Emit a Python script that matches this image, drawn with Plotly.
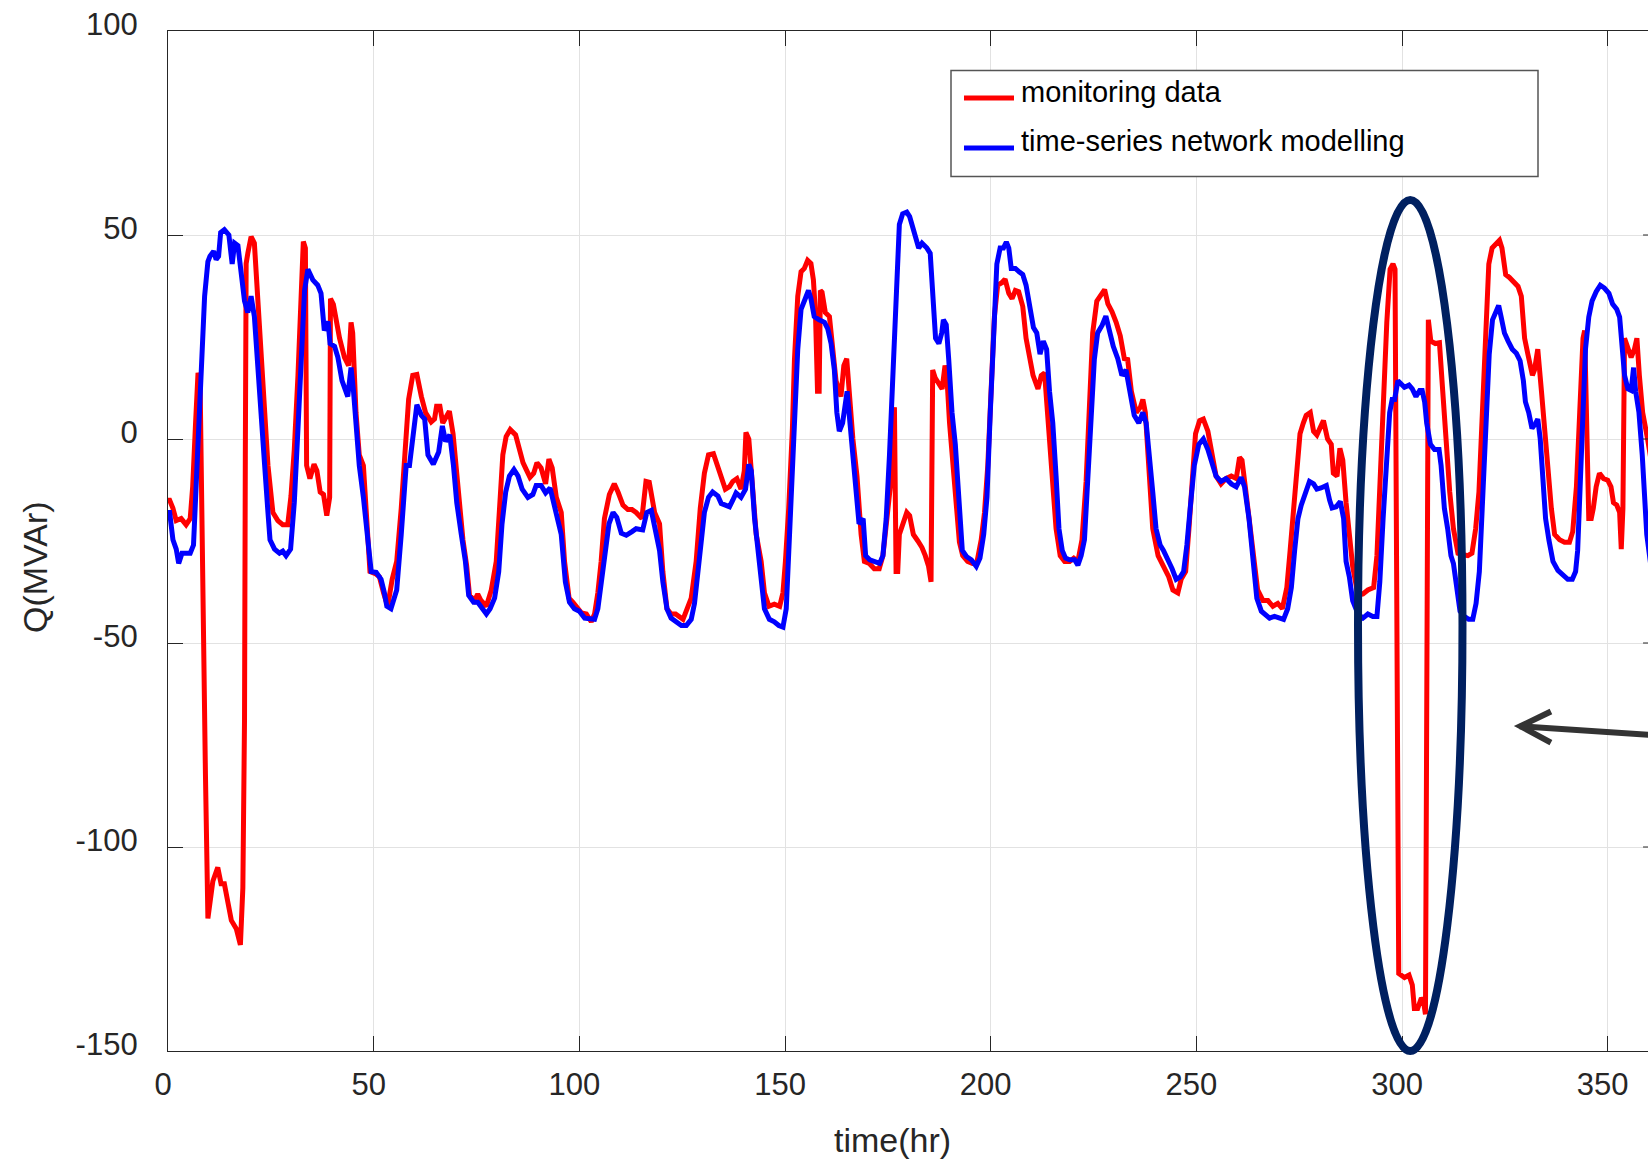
import plotly.graph_objects as go

# ---------------- data ----------------
red_hours = [0, 0.4, 1.2, 2, 3.2, 4.4, 5.4, 6, 6.7, 7.3, 7.8, 8.5, 9.1, 9.7, 10.9, 12.1, 12.9, 13.7, 14.5, 15.4,
             16.6, 17.6, 18.2, 18.6, 18.8, 19, 19.4, 20.2, 21, 21.8, 22.6, 23.5, 24.3, 25.5, 26.7, 27.9, 29.1, 29.9,
             30.7, 31.6, 32.4, 32.9, 33.4, 33.7, 34.5, 35.5, 36.2, 37, 37.8, 38.6, 39.3, 39.5, 40.2, 41, 41.7, 42.9,
             43.9, 44.5, 44.9, 45.7, 46.5, 47.5, 48.3, 49.1, 50.4, 51.4, 52.4, 53.4, 54.5, 55.6, 56.7, 57.9, 58.5,
             59.5, 60.5, 61.6, 62.6, 64, 64.8, 65.3, 66.1, 66.8, 67.6, 68.4, 69.3, 70, 71, 71.7, 72.6, 73.3, 74.5,
             75.3, 76.1, 77.4, 78.6, 79.8, 80.6, 81.4, 82.2, 83.2, 84.5, 85.5, 86.3, 87.1, 88, 88.9, 89.7, 90.7,
             91.8, 92.6, 93.4, 94.4, 95.6, 96.4, 97.5, 98.4, 99.2, 100.5, 101.7, 102.9, 103.7, 104.5, 105.3, 106.1,
             107.3, 108.5, 109.4, 110.6, 111.8, 112.8, 113.8, 115.2, 116.2, 117, 118.3, 119.5, 120.3, 121.3, 122.3,
             123.4, 125.2, 126.1, 127.2, 128.4, 129.4, 130.4, 131.4, 132.6, 133.4, 134.5, 135.5, 136.5, 137.3,
             138.3, 139.3, 140.1, 140.5, 141.2, 142, 143, 144.2, 145, 146.1, 147.4, 148.7, 149.5, 150.1, 150.9,
             151.8, 152.3, 153.1, 153.9, 154.7, 155.5, 156.3, 156.9, 157.4, 157.9, 158.3, 158.6, 159, 159.8, 160.8,
             161.6, 162.4, 163.6, 164.3, 165, 165.6, 166.5, 167.5, 168.5, 169.3, 170.5, 171.7, 172.9, 173.8, 174.6,
             175.6, 176.2, 176.6, 177.0, 177.4, 177.8, 178.6, 179.6, 180.3, 181.2, 182.3, 183.3, 184.1, 184.9,
             185.5, 185.9, 186.5, 187.6, 188.2, 188.9, 189.3, 190, 190.8, 191.6, 192.4, 193.2, 194.4, 195.6, 196.6,
             197.7, 198.5, 199.3, 200.1, 200.9, 201.7, 202.7, 203.5, 204.4, 205.2, 206, 206.8, 207.8, 208.6, 209.4,
             210.3, 211.5, 212.3, 213.1, 213.9, 214.7, 215.9, 216.9, 218, 219.2, 220.2, 221.2, 222.2, 223.2, 224,
             224.8, 225.8, 226.9, 227.7, 228.5, 229.5, 230.5, 231.5, 232.5, 233.3, 234.2, 235.4, 236.4, 237, 237.6,
             238.5, 239.4, 240.7, 242.3, 243.3, 244.3, 245.5, 246.3, 247.4, 248.2, 249, 249.8, 250.8, 251.7, 252.8,
             253.9, 254.8, 256, 257.2, 258.5, 259.7, 260.5, 261.1, 261.9, 262.9, 263.9, 264.9, 266.2, 267.4, 268.6,
             269.8, 270.9, 272, 272.8, 273.6, 274.4, 275.2, 276, 276.7, 277.7, 278.5, 279.3, 280.1, 280.9, 281.9,
             282.8, 283.3, 284.2, 284.9, 285.6, 286.4, 287.2, 288, 289.3, 290.5, 291.7, 293.1, 293.9, 294.7, 295.5,
             296.3, 297.1, 297.8, 298.3, 299.2, 300.6, 301.7, 302.5, 303, 303.8, 304.7, 305.2, 305.7, 306.4, 307,
             308.1, 309.1, 309.9, 310.7, 311.6, 312.5, 313.6, 314.6, 316, 317, 317.9, 318.7, 319.5, 320.3, 321.1,
             321.9, 322.9, 323.7, 324.3, 325.2, 326.1, 327.1, 328.2, 329, 329.8, 330.6, 331.7, 332.2, 333, 333.9,
             334.6, 335.5, 336.3, 337.1, 338.3, 339.5, 340.7, 341.5, 342.4, 343.2, 344, 344.4, 344.9, 345.4, 346,
             346.5, 347.2, 348, 349, 350, 350.8, 351.4, 352.2, 352.9, 353.3, 353.7, 354.1, 354.9, 355.7, 356.5,
             357.1, 357.7, 358.5, 359.7, 361]
red_q = [-15, -15, -17, -20, -19.5, -21, -19.5, -11.7, 3.9, 16.2, 14, -52, -82, -117.5, -108.4, -105, -109, -109,
         -113, -118, -120, -124, -110, -69, -4, 43, 45.5, 49.6, 48, 35, 22, 6.5, -6.5, -18, -20, -21, -21, -14,
         -2.6, 15.6, 35, 48.4, 46.8, -6.5, -9.7, -6.2, -7.8, -13, -13.6, -18.8, -14.3, 34.4, 33, 28.6, 24.7, 20,
         18, 28.6, 26, 6.5, -3.9, -6.5, -19.5, -32.5, -33, -33.8, -37.7, -41, -34.4, -30, -17, 0, 9.7,
         15.6, 15.8, 10.4, 6.5, 4.2, 4.9, 8, 8, 3.9, 5.2, 6.8, 1.3, -6.5, -14.3, -24.7, -31, -38.3, -39.6,
         -38, -39.6, -41, -37, -30, -17, -3.9, 0.6, 2.3, 1, -2.6, -5.8, -7.5, -9.4, -8.4, -5.8, -7.1,
         -11, -4.9, -7.1, -14.3, -18, -30, -39, -40, -41, -42.6, -42.9, -44.8, -42.9, -37.7, -30, -19.5,
         -13.6, -11, -13, -16.2, -17.3, -17.3, -18, -19.5, -10.4, -10.6, -18, -20.8, -32.5, -41.6, -42.9,
         -42.9, -44.2, -41.6, -39, -30, -17, -8.4, -3.9, -3.6, -5.8, -9.1, -12.3, -11.7, -10.4,
         -9.7, -12.3, -7.8, 1.6, 0, -11.7, -23.4, -30, -37.7, -41, -40.5, -41, -37.7, -30, -17,
         2.6, 19.5, 35, 41, 41.8, 43.8, 43, 39, 31, 11.7, 11.7, 36.4, 36, 31, 30,
         22, 14.3, 10.4, 18, 19.7, 10.4, 0, -9.1, -23.4, -30, -30.5, -31.8, -31.8, -28.6, -22,
         -11.7, -1.3, 7.8, -32.5, -32.5, -23.4, -20.8, -18, -18.8, -23.4, -25, -26.6, -28.6, -31.2,
         -35, 16.9, 15, 13.2, 12.3, 18, 16.2, 3.9, -6.5, -17, -25.3, -28.6, -30, -30.5, -30.5,
         -24.7, -18, -6.5, 11.7, 30, 37.7, 38.3, 39.2, 35.7, 34.4, 36.4, 36.1, 32.5, 24.7, 19.5,
         15.6, 12.3, 15.6, 16.2, 5.2, -6.5, -22, -28.6, -30, -30, -29.2, -30, -24.7, -10.4, 11.7,
         26, 33.8, 35.7, 36.6, 33.1, 31.2, 28.6, 25.3, 19.7, 19.5, 11.7, 6.5, 7.8, 9.7, 6.5,
         -9.1, -22, -28.6, -31.8, -33.8, -37, -37.7, -34.4, -32.5, -22, -9.1, 1.3, 4.5, 4.9, 1.9,
         -3.9, -9.1, -11, -9.7, -9.1, -9.7, -4.5, -5.2, -11.7, -19.5, -28.6, -37, -39.6, -39.6, -41,
         -40.3, -41.6, -36.4, -27.3, -17, -7.8, 1.3, 3.9, 5.8, 6.5, 1.9, 1, 2.9, 4.5, 0,
         -1.3, -8.4, -9.1, -2.3, -5.2, -15.6, -23.4, -31.2, -38.3, -38, -37, -36.4, -28.6, -9.1, 11.7,
         28.6, 41.6, 42.9, 41.6, -131, -132, -131.4, -133.8, -139.6, -139.6, -137, -137.7, -141, 29.2, 24,
         23.4, 23.6, 11.7, -1.3, -13, -22, -28, -28.3, -28.6, -28, -22, -13, 6.5, 28.6, 42.9,
         46.8, 48, 48.7, 46.8, 40.3, 39.6, 38.7, 37.4, 35, 24.7, 20.8, 15.6, 16.9, 22, 11.7,
         2.6, -7.8, -17, -23.4, -24.7, -25.3, -25.3, -22.7, -11.7, 6.5, 24.7, 26.6, 6.5, -19.5, -19.5,
         -17, -11.7, -8.4, -9.7, -10.1, -11.7, -15.6, -16.2, -18, -27, -17, 24.7, 22.7, 20, 22,
         24.7, 15.6, 6.5, 0, -8]

blue_hours = [0, 0.4, 1.2, 2, 2.6, 3.4, 4.4, 5.4, 6.2, 6.9, 7.7, 8.3, 8.9, 9.7, 10.2, 11.1, 11.7, 12.3, 12.8, 13.7,
              14.8, 15.6, 16.2, 17, 17.8, 18.6, 19.4, 20.2, 21, 21.8, 22.6, 23.5, 24.3, 24.8, 25.9, 27.1, 27.9,
              28.7, 29.8, 30.7, 31.6, 32.4, 33.2, 34, 35.2, 36.4, 37.2, 38, 38.9, 39.4, 40.5, 41.3, 42.3, 43.7,
              44.5, 45.1, 45.9, 46.5, 47.5, 48.3, 49.4, 50.6, 51.8, 52.6, 53.2, 54.2, 55.6, 56.7, 57.9, 58.7,
              59.5, 60.5, 61.6, 62.4, 63.2, 64.5, 65.8, 66.7, 67.5, 68.5, 69.4, 70.2, 71.3, 72.3, 73.1, 74.3,
              75.3, 76.4, 77.4, 78.3, 79.4, 80.4, 81.2, 82.1, 83, 84.1, 85.1, 86.1, 87.5, 88.7, 89.5, 90.7, 91.8,
              92.9, 94.4, 95.6, 96.6, 97.6, 98.8, 100, 101.3, 102.5, 103.7, 104.5, 105.3, 106.1, 107.2, 108.2,
              109.1, 110.2, 111.4, 112.8, 113.8, 115.4, 116.4, 117.5, 118.5, 119.5, 120.3, 121.3, 122.3, 123.5,
              124.8, 126, 127.2, 128, 128.8, 129.6, 130.4, 131.4, 132.4, 133.7, 134.5, 135.5, 136.5, 137.3, 138.1,
              139.3, 140.4, 141.2, 141.8, 142.6, 143.4, 144.2, 145, 146.2, 147.4, 148.5, 149.5, 150.3, 151.1,
              151.8, 152.6, 153.1, 153.9, 154.9, 155.7, 156.3, 157.1, 158.3, 159.6, 160.4, 161.2, 162, 162.6,
              163.2, 164, 165.1, 165.7, 166.5, 167.3, 168, 169, 169.6, 170.6, 171.8, 173, 173.8, 174.6, 175.4,
              176.1, 176.6, 177.2, 177.8, 178.6, 179.6, 180.3, 181.5, 182.5, 183.3, 184.5, 185.3, 185.9, 186.6,
              187.4, 188.1, 188.5, 189.2, 189.8, 190.6, 191.4, 192.3, 193.1, 194.1, 195.3, 196.5, 197.4, 198.3,
              199.1, 199.9, 200.7, 201.5, 202.3, 203.1, 203.8, 204.4, 205, 206, 207, 207.8, 208.6, 209.6, 210.4,
              211.2, 212, 212.8, 213.6, 214.3, 215.1, 215.9, 216.6, 217.4, 218.2, 219.2, 220.4, 221.2, 222,
              222.8, 223.6, 224.4, 225.2, 226, 227.1, 228, 228.9, 229.8, 230.9, 231.9, 232.9, 233.9, 234.9, 236,
              237, 237.8, 238.6, 239.4, 240.2, 241.2, 242, 243, 244.1, 245.1, 246.1, 246.9, 247.7, 248.5, 249.5,
              250.6, 251.7, 252.8, 253.9, 254.8, 256, 257.2, 258.5, 259.7, 260.9, 261.7, 262.8, 263.7, 264.7,
              265.8, 266.8, 267.8, 269, 270.2, 271.2, 272.2, 273.1, 273.9, 274.7, 275.5, 276.5, 277.5, 278.5,
              279.3, 280.3, 281.6, 282.4, 283, 284, 285, 285.8, 286.4, 287.2, 288, 289.3, 290.5, 291.7, 292.9,
              293.9, 294.6, 295.4, 296.2, 297, 297.6, 298.2, 299, 300.6, 301.7, 302.5, 303.4, 304.3, 304.9,
              305.5, 306, 306.9, 307.9, 309, 309.5, 310.3, 311.1, 311.9, 312.5, 313.2, 314.1, 315.2, 316.2,
              317.2, 318, 318.8, 319.6, 320.4, 321.2, 322, 322.9, 323.5, 324.1, 324.9, 325.8, 326.8, 327.8,
              328.7, 329.5, 330, 330.8, 331.6, 332.5, 333, 333.6, 334.2, 334.9, 335.7, 336.7, 337.9, 339.1,
              340.3, 341.4, 342.2, 342.7, 343.3, 343.9, 344.6, 345.4, 346.2, 347.2, 348.2, 349.2, 350.3, 351.2,
              352.2, 352.9, 353.5, 354.1, 354.9, 355.7, 356.3, 356.8, 357.6, 358.4, 359.5, 361]
blue_q = [-18, -18, -24.7, -27, -30.5, -28, -28, -28, -26, -9, 5, 26, 35, 43.5, 44.8, 46, 44, 44.8, 50.6, 51.3,
          50, 42.9, 48, 47.4, 41.6, 33.8, 31, 35, 30, 16.9, 3.9, -6.5, -18, -24.7, -27, -28, -27.5,
          -28.6, -27, -15.6, 2.6, 22, 36.4, 41.6, 39, 37.7, 35.7, 26.6, 28.8, 23.4, 22.7, 20, 14.3, 10.4,
          17.5, 11.7, -1.3, -6.5, -14.3, -22, -32.5, -32.7, -34.4, -37.7, -41, -41.6, -37, -23.4, -6.5, -6.5,
          1.3, 8.4, 5.8, 4.9, -3.9, -6.2, -3.2, 3.2, -0.6, 1, -6.5, -15.6, -23.4, -30, -38.3, -40,
          -40, -41.6, -42.9, -41.6, -39, -32.5, -20.8, -13, -9.1, -7.5, -9.1, -12.3, -14.3, -13.6, -11.4, -11.4, -13.2,
          -12, -18, -23.4, -35, -40, -41.6, -42.2, -43.9, -44.2, -44.2, -41.6, -35, -28.6, -20.8, -18,
          -19.2, -23.1, -23.6, -22.7, -22, -22.3, -18, -17.5, -22, -27.3, -35, -41.6, -43.9, -44.8,
          -45.7, -45.7, -44.2, -40.3, -32.5, -24.7, -18, -14.3, -13, -14, -15.8, -16.2, -16.6, -15, -13.2,
          -14.3, -12.3, -6.2, -7.8, -19.5, -27.3, -32.5, -41.6, -44.2, -44.8, -45.7, -46.1, -41.6, -23.4,
          -3.9, 10.4, 22, 31.8, 34.4, 36.4, 34.4, 30, 29.2, 28.6, 27, 23.4, 16.9, 6.5,
          1.9, 3.9, 11.7, 5.2, -3.9, -13, -20.8, -19.5, -28.6, -29.6, -29.9, -30.5, -28.6, -19.5, -3.9,
          13, 28.6, 44.2, 52.6, 55.2, 55.6, 54.5, 50.6, 46.8, 48, 46.8, 45.5, 35, 24.7,
          23.4, 26, 29.2, 28, 19.5, 6.5, -1.3, -17, -27.3, -28.8, -29.6, -31.2, -29.2, -23.4,
          -14.3, 6.5, 27.3, 42.9, 46.8, 46.8, 48.3, 46.8, 41.8, 41.8, 40.9, 40.3, 37.7, 31.2, 27.3,
          26, 20.8, 24, 22, 11.7, 3.9, -9.1, -22, -27.3, -29.2, -29.6, -29.6, -30.9, -28.6,
          -24.7, -10.4, 9.1, 19.5, 26, 27.9, 30.1, 26, 22.7, 19.7, 15.6, 16.9, 11, 5.8, 3.9,
          6.5, 3.9, -6.5, -13, -22, -26, -27.3, -29.2, -31.8, -34.4, -33.8, -32.5, -26, -17, -6.5,
          -1.3, 0, -2.6, -6.5, -9.1, -10.4, -9.7, -11, -11.7, -9.4, -11.7, -19.5, -30, -39,
          -42.2, -42.9, -43.9, -43.5, -43.9, -44.2, -41.6, -36.4, -27.3, -19.5, -16.2, -13.6, -10.4, -11,
          -12.3, -12, -11.4, -15, -16.9, -16.6, -15.3, -19.5, -30, -33.8, -39.6, -42.9, -43.9, -42.9, -43.5,
          -43.5, -35, -19.5, -3.9, 6.5, 9.7, 9.7, 14.3, 12.7, 13.2, 12.3, 10.4, 11.9, 11.9,
          9.1, 3.9, -1.3, -2.6, -2.6, -6.5, -17, -22, -28.6, -30.5, -36.4, -42.2, -43.5, -44.2,
          -44.2, -40.3, -32.5, -14.3, 6.5, 20.8, 29.2, 31.4, 32.7, 29.9, 26, 24, 22, 21,
          19.2, 14.3, 9.1, 6.5, 2.6, 3.9, 4.9, 0, -9.1, -19.5, -24.7, -30, -32.2, -33.5,
          -34.4, -34.4, -32.5, -27.3, -11.7, 6.5, 22, 29.9, 33.8, 36.1, 37.7, 37, 35.7, 33.1,
          31.8, 29.9, 22, 15.6, 12.3, 11.9, 17.5, 11.7, 6.5, -3.9, -23.4, -35]

series_names = ["monitoring data", "time-series network modelling"]
x_tick_vals = [0, 50, 100, 150, 200, 250, 300, 350]
x_tick_text = ["0", "50", "100", "150", "200", "250", "300", "350"]
y_tick_vals = [-150, -100, -50, 0, 50, 100]
y_tick_text = ["-150", "-100", "-50", "0", "50", "100"]
x_title = "time(hr)"
y_title = "Q(MVAr)"

# ---------------- styling / layout ----------------
RED = "#ff0000"
BLUE = "#0000ff"
AXC = "#262626"
FONT = "Liberation Sans, Arial, Helvetica, sans-serif"
X_MIN, X_MAX = 0, 359.8
Y_MIN, Y_MAX = -150, 100


def px(t):
    return (t - X_MIN) / (X_MAX - X_MIN)


def py(v):
    return (v - Y_MIN) / (Y_MAX - Y_MIN)


fig = go.Figure()
fig.add_trace(go.Scatter(x=red_hours, y=red_q, mode="lines", name=series_names[0],
                         line=dict(color=RED, width=5), showlegend=False))
fig.add_trace(go.Scatter(x=blue_hours, y=blue_q, mode="lines", name=series_names[1],
                         line=dict(color=BLUE, width=5), showlegend=False))

shapes = []
# right-side (mirrored) y ticks, partly outside the visible area
for v in y_tick_vals[1:-1]:
    shapes.append(dict(type="line", xref="x", yref="y", x0=358.6, x1=X_MAX, y0=v, y1=v,
                       line=dict(color=AXC, width=1)))

# highlight ellipse
shapes.append(dict(type="circle", xref="paper", yref="paper",
                   x0=px(289.3), x1=px(314.7), y0=py(-150.0), y1=py(58.6),
                   line=dict(color="#002060", width=8), layer="above"))

# arrow (shaft + open head)
shapes.append(dict(type="path", xref="x", yref="y",
                   path="M 372,-73.3 L 328.6,-70.4",
                   line=dict(color="#333333", width=6), layer="above"))
shapes.append(dict(type="path", xref="x", yref="y",
                   path="M 336.2,-66.8 L 328.8,-70.4 L 336.2,-74.4",
                   line=dict(color="#333333", width=6), layer="above"))

# legend box
lx0, lx1 = (951 - 168) / 1480, (1538 - 168) / 1480
ly0, ly1 = (1051 - 176.6) / 1020, (1051 - 70.4) / 1020
shapes.append(dict(type="rect", xref="paper", yref="paper", x0=lx0, x1=lx1, y0=ly0, y1=ly1,
                   fillcolor="white", line=dict(color="#555555", width=1.5), layer="above"))
sx0, sx1 = (964 - 168) / 1480, (1014 - 168) / 1480
for yy, col in [((1051 - 98) / 1020, RED), ((1051 - 148) / 1020, BLUE)]:
    shapes.append(dict(type="line", xref="paper", yref="paper", x0=sx0, x1=sx1, y0=yy, y1=yy,
                       line=dict(color=col, width=5), layer="above"))

annotations = [
    dict(xref="paper", yref="paper", x=(1019 - 168) / 1480, y=(1051 - 92) / 1020, text=series_names[0],
         showarrow=False, xanchor="left", yanchor="middle", font=dict(family=FONT, size=29, color="#000000")),
    dict(xref="paper", yref="paper", x=(1019 - 168) / 1480, y=(1051 - 141) / 1020, text=series_names[1],
         showarrow=False, xanchor="left", yanchor="middle", font=dict(family=FONT, size=29, color="#000000")),
    dict(xref="paper", yref="paper", x=(892 - 168) / 1480, y=(1051 - 1140) / 1020, text=x_title,
         showarrow=False, xanchor="center", yanchor="middle", font=dict(family=FONT, size=34, color=AXC)),
    dict(xref="paper", yref="paper", x=(35 - 168) / 1480, y=(1051 - 567) / 1020, text=y_title, textangle=-90,
         showarrow=False, xanchor="center", yanchor="middle", font=dict(family=FONT, size=34, color=AXC)),
]

fig.update_layout(
    width=1648, height=1160,
    margin=dict(l=168, r=0, t=31, b=109, pad=0),
    paper_bgcolor="white", plot_bgcolor="white",
    showlegend=False,
    shapes=shapes, annotations=annotations,
    font=dict(family=FONT, color=AXC),
)
fig.update_xaxes(
    range=[X_MIN, X_MAX], tickmode="array", tickvals=x_tick_vals, ticktext=x_tick_text,
    ticks="inside", ticklen=15, tickwidth=1, tickcolor=AXC,
    showline=True, linecolor=AXC, linewidth=1.3, mirror="ticks",
    showgrid=True, gridcolor="#e2e2e2", gridwidth=1, zeroline=False,
    tickfont=dict(family=FONT, size=31, color=AXC), ticklabelstandoff=6, ticklabelshift=-5,
)
fig.update_yaxes(
    range=[Y_MIN, Y_MAX], tickmode="array", tickvals=y_tick_vals, ticktext=y_tick_text,
    ticks="inside", ticklen=15, tickwidth=1, tickcolor=AXC,
    showline=True, linecolor=AXC, linewidth=1.3, mirror=False,
    showgrid=True, gridcolor="#e2e2e2", gridwidth=1, zeroline=False,
    tickfont=dict(family=FONT, size=31, color=AXC), ticklabelstandoff=23, ticklabelshift=-7,
)

fig.write_html("out.html", config={"displayModeBar": False},
               post_script="document.body.style.margin='0';document.body.style.overflow='hidden';")
